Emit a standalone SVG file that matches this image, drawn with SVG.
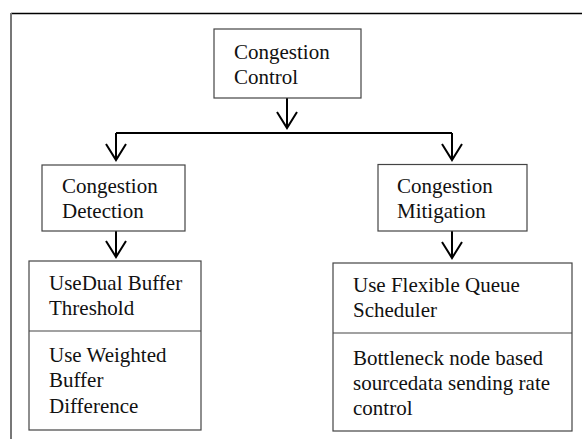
<svg xmlns="http://www.w3.org/2000/svg" width="582" height="439" viewBox="0 0 582 439">
<defs>
<style>
.box{fill:#fff;stroke:#444;stroke-width:1.2}
.t{font-family:"Liberation Serif","Times New Roman",serif;font-size:21px;fill:#111}
.c{fill:none;stroke:#000;stroke-width:2}
</style>
<marker id="v" markerUnits="userSpaceOnUse" viewBox="-18 -12 20 24" refX="0" refY="0" markerWidth="20" markerHeight="24" orient="auto" overflow="visible">
<path d="M-16,-10 L0,0 L-16,10" fill="none" stroke="#000" stroke-width="2"/>
</marker>
</defs>
<rect width="582" height="439" fill="#fff"/>
<g id="frame">
<line x1="11" y1="13.5" x2="582" y2="13.5" stroke="#000" stroke-width="1.5"/>
<line x1="11" y1="13" x2="11" y2="439" stroke="#777" stroke-width="2"/>
</g>
<g id="connectors">
<path class="c" d="M287,98 V128" marker-end="url(#v)"/>
<path class="c" d="M116,133 H452"/>
<path class="c" d="M116,133 V160" marker-end="url(#v)"/>
<path class="c" d="M452,133 V160" marker-end="url(#v)"/>
<path class="c" d="M116,231 V257" marker-end="url(#v)"/>
<path class="c" d="M452,231 V258" marker-end="url(#v)"/>
</g>
<g id="congestion-control">
<rect class="box" x="214" y="29" width="147" height="69"/>
<text class="t" x="234" y="59">Congestion</text>
<text class="t" x="234" y="83.5">Control</text>
</g>
<g id="congestion-detection">
<rect class="box" x="42" y="165" width="143" height="66"/>
<text class="t" x="62" y="193">Congestion</text>
<text class="t" x="62" y="218">Detection</text>
</g>
<g id="congestion-mitigation">
<rect class="box" x="378" y="164.5" width="149" height="66.5"/>
<text class="t" x="397" y="193">Congestion</text>
<text class="t" x="397" y="218">Mitigation</text>
</g>
<g id="detection-methods">
<rect class="box" x="29" y="261" width="172" height="169"/>
<line x1="29" y1="331" x2="201" y2="331" stroke="#444" stroke-width="1.2"/>
<text class="t" x="49" y="290">UseDual Buffer</text>
<text class="t" x="49" y="315">Threshold</text>
<text class="t" x="49" y="362">Use Weighted</text>
<text class="t" x="49" y="387">Buffer</text>
<text class="t" x="49" y="413">Difference</text>
</g>
<g id="mitigation-methods">
<rect class="box" x="333" y="263" width="239" height="168"/>
<line x1="333" y1="333" x2="572" y2="333" stroke="#444" stroke-width="1.2"/>
<text class="t" x="353" y="292">Use Flexible Queue</text>
<text class="t" x="353" y="317">Scheduler</text>
<text class="t" x="353" y="365">Bottleneck node based</text>
<text class="t" x="353" y="390">sourcedata sending rate</text>
<text class="t" x="353" y="415">control</text>
</g>
</svg>
